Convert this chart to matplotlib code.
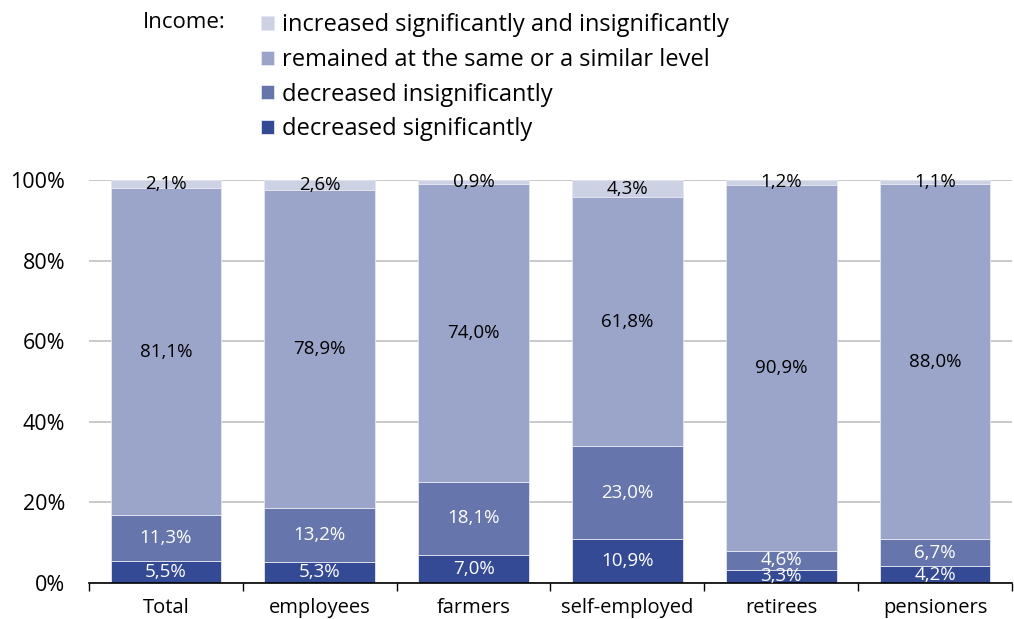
import matplotlib.pyplot as plt
import numpy as np

plt.rcParams['font.family'] = ['Open Sans', 'DejaVu Sans']

# data
categories = ["Total", "employees", "farmers", "self-employed", "retirees", "pensioners"]
dec_sig = [5.5, 5.3, 7.0, 10.9, 3.3, 4.2]
dec_insig = [11.3, 13.2, 18.1, 23.0, 4.6, 6.7]
same_level = [81.1, 78.9, 74.0, 61.8, 90.9, 88.0]
increased = [2.1, 2.6, 0.9, 4.3, 1.2, 1.1]

series = [
    ("decreased significantly", dec_sig, "#344a94", "white"),
    ("decreased insignificantly", dec_insig, "#6675ab", "white"),
    ("remained at the same or a similar level", same_level, "#9aa5c9", "black"),
    ("increased significantly and insignificantly", increased, "#ccd2e4", "black"),
]

fig = plt.figure(figsize=(10.14, 6.19), dpi=100)
ax = fig.add_axes([89 / 1014, 1 - 583 / 619, 923 / 1014, 403 / 619])

x = np.arange(len(categories))
bottom = np.zeros(len(categories))
handles = []
for name, vals, color, tcol in series:
    vals = np.array(vals)
    bars = ax.bar(x, vals, 0.72, bottom=bottom, color=color, edgecolor="#e4e7f1",
                  linewidth=0.6, label=name, zorder=2)
    handles.append(bars)
    for xi, b, v in zip(x, bottom, vals):
        ax.text(xi, b + v / 2, f"{v:.1f}%".replace(".", ","), ha="center",
                va="center", color=tcol, fontsize=13.5, zorder=3)
    bottom += vals

ax.set_xlim(-0.5, len(categories) - 0.5)
ax.set_ylim(0, 100)
ax.set_yticks([0, 20, 40, 60, 80, 100])
ax.set_yticklabels([f"{v}%" for v in range(0, 101, 20)], fontsize=15.5)
ax.yaxis.grid(True, color="#c0c0c0", linewidth=1.2, zorder=0)
ax.tick_params(axis="y", length=0, pad=17)

# tick marks at category boundaries, labels at centres
ax.set_xticks(np.arange(len(categories) + 1) - 0.5)
ax.set_xticklabels([])
ax.tick_params(axis="x", which="major", length=6, width=1, color="black")
ax.set_xticks(x, minor=True)
ax.set_xticklabels(categories, minor=True, fontsize=14.5)
ax.tick_params(axis="x", which="minor", length=0, pad=11)

for s in ["top", "right", "left"]:
    ax.spines[s].set_visible(False)
ax.spines["bottom"].set_linewidth(1.2)
ax.set_axisbelow(True)

fig.text(143 / 1014, 1 - 22 / 619, "Income:", fontsize=16, va="center", ha="left")
fig.legend(handles[::-1], [s[0] for s in series[::-1]], loc="upper left",
           bbox_to_anchor=(252 / 1014, 1 - 4 / 619), frameon=False, fontsize=17,
           handlelength=0.55, handleheight=0.55, handletextpad=0.3, labelspacing=0.45,
           borderaxespad=0)

fig.savefig("out.png", dpi=100)
